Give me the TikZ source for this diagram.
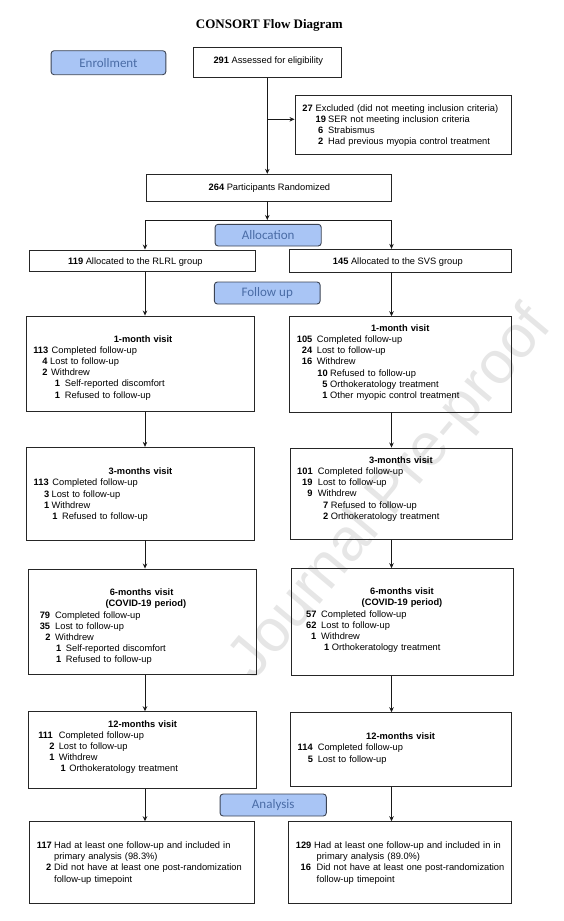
\documentclass[tikz,border=0pt]{standalone}
\usepackage{fontspec}
\setmainfont{Liberation Sans}
\newfontfamily\titlefont{Liberation Serif}
\newfontfamily\lblfont{Carlito}
\usetikzlibrary{arrows.meta}
\definecolor{lblfill}{HTML}{A9C5F5}
\definecolor{lbltext}{HTML}{4A6CA6}
\definecolor{lbldraw}{HTML}{3C4454}
\definecolor{wmgray}{HTML}{E6E6E6}
\newcommand\Rw[4]{\hspace*{#1pt}\makebox[0pt][l]{\textbf{#2}}\hspace*{\dimexpr #3pt-#1pt\relax}#4}
\newcommand\Tx[2]{\hspace*{#1pt}#2}
\newcommand\Ct[2]{\hspace*{#1pt}\makebox[0pt][c]{\textbf{#2}}}
\begin{document}
\begin{tikzpicture}[x=1pt,y=-1pt,
  box/.style={draw=black!85, line width=0.9pt, inner sep=0pt},
  lbl/.style={draw=lbldraw, fill=lblfill, rounded corners=3pt, line width=0.9pt, inner sep=0pt, text=lbltext, font=\lblfont\fontsize{13}{13}\selectfont},
  txt/.style={anchor=base west, inner sep=0pt, text width=540pt, align=left, font=\fontsize{9.3}{11.2}\selectfont},
  one/.style={anchor=base, inner sep=0pt, font=\fontsize{9.3}{11.2}\selectfont},
  ln/.style={draw=black!90, line width=0.8pt},
  arr/.style={ln, -{Stealth[length=5pt,width=4.5pt]}},
  wm/.style={text=wmgray, inner sep=0pt, font=\fontsize{60}{60}\selectfont}]
\useasboundingbox (0,0) rectangle (564,921);
% watermark
\node[wm, rotate=50] (wmark) at (392,494) {Journal Pre-proof};
% title
\node[anchor=base, inner sep=0pt, font=\titlefont\bfseries\fontsize{13}{13}\selectfont] (title) at (269.4,28.5) {CONSORT Flow Diagram};
% stage labels
\node[lbl, minimum width=114.7pt, minimum height=24pt] (enr) at (108.45,62.7) {Enrollment};
\node[lbl, minimum width=106.1pt, minimum height=21.7pt] (alloc) at (268.15,235.15) {Allocation};
\node[lbl, minimum width=105.7pt, minimum height=22pt] (fu) at (267.25,293) {Follow up};
\node[lbl, minimum width=106.2pt, minimum height=22pt] (ana) at (273.2,805) {Analysis};
% boxes
\node[box, minimum width=148.2pt, minimum height=29.6pt] (assess) at (267.3,62.5) {};
\node[box, minimum width=216.9pt, minimum height=58.6pt] (excl) at (403.45,125) {};
\node[box, minimum width=245pt, minimum height=26.7pt] (rand) at (268.9,187.65) {};
\node[box, minimum width=225.9pt, minimum height=21.7pt] (lalloc) at (142.45,260.85) {};
\node[box, minimum width=221.9pt, minimum height=22.7pt] (ralloc) at (400.15,260.65) {};
\node[box, minimum width=228.4pt, minimum height=95.3pt] (l1) at (140.5,363.65) {};
\node[box, minimum width=221.7pt, minimum height=95.3pt] (r1) at (400.15,364.35) {};
\node[box, minimum width=228.4pt, minimum height=92.7pt] (l3) at (140.5,493.65) {};
\node[box, minimum width=222pt, minimum height=91.3pt] (r3) at (401,493.65) {};
\node[box, minimum width=227.3pt, minimum height=105.7pt] (l6) at (142.45,621.85) {};
\node[box, minimum width=222.3pt, minimum height=107pt] (r6) at (402.15,622.2) {};
\node[box, minimum width=227.3pt, minimum height=76.6pt] (l12) at (142.45,750) {};
\node[box, minimum width=221.6pt, minimum height=74pt] (r12) at (401.1,749.7) {};
\node[box, minimum width=225.2pt, minimum height=81.6pt] (lan) at (142.1,862.5) {};
\node[box, minimum width=222.4pt, minimum height=81.6pt] (ran) at (400,862.5) {};
% single-line texts
\node[one] (assesst) at (268.3,63.7) {\textbf{291} Assessed for eligibility};
\node[one] (randt) at (269.4,190.3) {\textbf{264} Participants Randomized};
\node[one] (lallot) at (135.4,264.7) {\textbf{119} Allocated to the RLRL group};
\node[one] (rallot) at (397.8,264.3) {\textbf{145} Allocated to the SVS group};
% multi-line texts
\node[txt, font=\fontsize{9.3}{10.9}\selectfont] (exclt) at (0,111.3) {%
\Rw{302.2}{27}{315.5}{Excluded (did not meeting inclusion criteria)}\\
\Rw{315.5}{19}{328}{SER not meeting inclusion criteria}\\
\Rw{318}{6}{328}{Strabismus}\\
\Rw{318}{2}{328}{Had previous myopia control treatment}};
\node[txt] (l1t) at (0,342) {%
\Ct{142.8}{1-month visit}\\
\Rw{33.1}{113}{51.5}{Completed follow-up}\\
\Rw{42.1}{4}{50}{Lost to follow-up}\\
\Rw{42.1}{2}{51}{Withdrew}\\
\Rw{54.7}{1}{64.7}{Self-reported discomfort}\\
\Rw{54.7}{1}{64.7}{Refused to follow-up}};
\node[txt] (r1t) at (0,331.3) {%
\Ct{400}{1-month visit}\\
\Rw{296.7}{105}{316.7}{Completed follow-up}\\
\Rw{301.7}{24}{316.7}{Lost to follow-up}\\
\Rw{301.7}{16}{316.7}{Withdrew}\\
\Rw{317.3}{10}{330}{Refused to follow-up}\\
\Rw{322.3}{5}{330}{Orthokeratology treatment}\\
\Rw{322.3}{1}{330}{Other myopic control treatment}};
\node[txt] (l3t) at (0,474.7) {%
\Ct{140.3}{3-months visit}\\
\Rw{33.5}{113}{52.2}{Completed follow-up}\\
\Rw{43.9}{3}{51.4}{Lost to follow-up}\\
\Rw{43.9}{1}{51.4}{Withdrew}\\
\Rw{52.2}{1}{61.9}{Refused to follow-up}};
\node[txt] (r3t) at (0,463.3) {%
\Ct{400.7}{3-months visit}\\
\Rw{297}{101}{317.7}{Completed follow-up}\\
\Rw{302}{19}{317.7}{Lost to follow-up}\\
\Rw{307.3}{9}{317.7}{Withdrew}\\
\Rw{323}{7}{330.7}{Refused to follow-up}\\
\Rw{323}{2}{330.7}{Orthokeratology treatment}};
\node[txt] (l6t) at (0,595.7) {%
\Ct{141.4}{6-months visit}\\
\Ct{145.7}{(COVID-19 period)}\\
\Rw{39.6}{79}{55}{Completed follow-up}\\
\Rw{39.6}{35}{55}{Lost to follow-up}\\
\Rw{45.3}{2}{55}{Withdrew}\\
\Rw{55.8}{1}{65.8}{Self-reported discomfort}\\
\Rw{55.8}{1}{65.8}{Refused to follow-up}};
\node[txt] (r6t) at (0,594.7) {%
\Ct{401.8}{6-months visit}\\
\Ct{401.8}{(COVID-19 period)}\\
\Rw{306}{57}{321}{Completed follow-up}\\
\Rw{306}{62}{321}{Lost to follow-up}\\
\Rw{311}{1}{321}{Withdrew}\\
\Rw{324}{1}{331.7}{Orthokeratology treatment}};
\node[txt] (l12t) at (0,727) {%
\Ct{142.4}{12-months visit}\\
\Rw{38.1}{111}{58.6}{Completed follow-up}\\
\Rw{49.3}{2}{58.6}{Lost to follow-up}\\
\Rw{49.3}{1}{58.6}{Withdrew}\\
\Rw{60.4}{1}{69.1}{Orthokeratology treatment}};
\node[txt] (r12t) at (0,739.7) {%
\Ct{400.4}{12-months visit}\\
\Rw{297.5}{114}{317.6}{Completed follow-up}\\
\Rw{307.6}{5}{317.6}{Lost to follow-up}};
\node[txt, font=\fontsize{9.3}{11.4}\selectfont] (lant) at (0,848) {%
\Rw{36.7}{117}{54}{Had at least one follow-up and included in}\\
\Tx{54}{primary analysis (98.3\%)}\\
\Rw{46}{2}{54}{Did not have at least one post-randomization}\\
\Tx{54}{follow-up timepoint}};
\node[txt, font=\fontsize{9.3}{11.4}\selectfont] (rant) at (0,848) {%
\Rw{295.7}{129}{314}{Had at least one follow-up and included in in}\\
\Tx{316.5}{primary analysis (89.0\%)}\\
\Rw{300.4}{16}{316.5}{Did not have at least one post-randomization}\\
\Tx{316.5}{follow-up timepoint}};
% connector helpers
\coordinate (lx) at (145,0);
\coordinate (rx) at (391.5,0);
\coordinate (split) at (0,220);
\coordinate (exin) at ([yshift=5.7pt]excl.west);
% connectors
\draw[arr] (assess.south) -- (assess.south |- rand.north);
\draw[arr] (assess.south |- exin) -- (exin);
\draw[arr] (assess.south |- rand.south) -- (assess.south |- split);
\draw[ln] (lx |- split) -- (rx |- split);
\draw[arr] (lx |- split) -- (lx |- lalloc.north);
\draw[arr] (rx |- split) -- (rx |- ralloc.north);
\draw[arr] (lx |- lalloc.south) -- (lx |- l1.north);
\draw[arr] (rx |- ralloc.south) -- (rx |- r1.north);
\draw[arr] (lx |- l1.south) -- (lx |- l3.north);
\draw[arr] (rx |- r1.south) -- (rx |- r3.north);
\draw[arr] (lx |- l3.south) -- (lx |- l6.north);
\draw[arr] (rx |- r3.south) -- (rx |- r6.north);
\draw[arr] (lx |- l6.south) -- (lx |- l12.north);
\draw[arr] (rx |- r6.south) -- (rx |- r12.north);
\draw[arr] (lx |- l12.south) -- (lx |- lan.north);
\draw[arr] (rx |- r12.south) -- (rx |- ran.north);
\end{tikzpicture}
\end{document}
